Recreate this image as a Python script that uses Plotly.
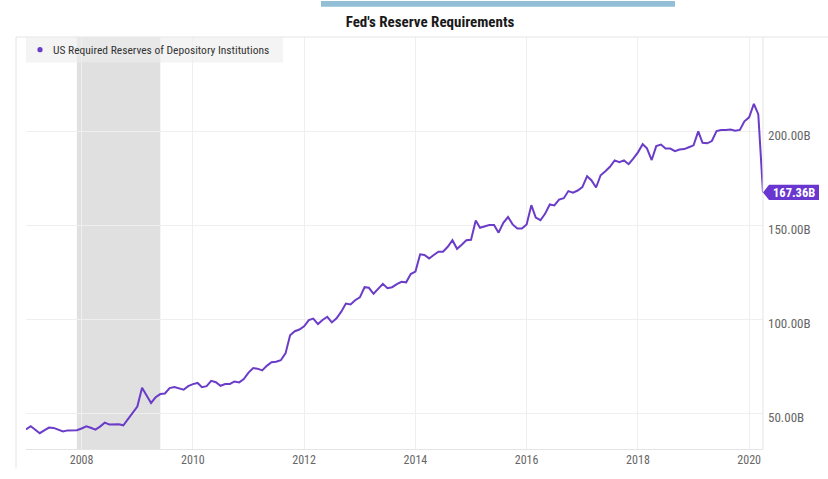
import plotly.graph_objects as go
import pandas as pd

# ---------------- data (billions USD, monthly) ----------------
series_name = "US Required Reserves of Depository Institutions"
chart_title = "Fed's Reserve Requirements"
start_month = "2007-01-01"
values = [
    41.4, 43.1, 41.4, 39.4, 40.9, 42.4, 42.2, 41.3, 40.3, 40.9, 40.8, 41.0,   # 2007
    41.9, 43.1, 42.3, 41.3, 42.9, 45.0, 44.0, 44.1, 44.1, 43.6, 47.1, 50.5,   # 2008
    53.6, 63.5, 59.7, 55.5, 58.5, 60.2, 60.5, 63.4, 63.9, 63.2, 62.5, 64.4,   # 2009
    65.5, 66.1, 63.9, 64.4, 67.2, 66.5, 64.6, 65.5, 65.6, 66.9, 66.4, 68.2,   # 2010
    71.6, 74.0, 73.7, 72.8, 75.2, 77.1, 77.4, 78.2, 81.8, 91.4, 93.6, 94.5,   # 2011
    96.2, 99.5, 100.3, 97.4, 99.6, 101.3, 98.3, 100.5, 104.0, 108.3, 107.8, 110.1,  # 2012
    111.6, 117.0, 116.7, 113.5, 115.9, 118.8, 116.5, 117.0, 118.6, 119.9, 119.6, 124.0,  # 2013
    125.3, 134.5, 134.1, 132.3, 134.1, 135.9, 135.9, 138.5, 142.0, 137.4, 139.6, 142.0,  # 2014
    142.2, 152.4, 148.6, 149.2, 150.1, 150.1, 146.0, 151.2, 154.3, 150.4, 148.2, 148.2,  # 2015
    150.3, 160.6, 154.0, 152.6, 156.0, 161.0, 160.5, 163.6, 164.3, 168.1, 167.3, 168.4,  # 2016
    170.2, 176.0, 173.9, 170.0, 176.5, 178.6, 181.0, 184.4, 183.5, 184.4, 182.4, 185.4,  # 2017
    188.7, 193.0, 190.8, 184.6, 192.0, 192.8, 190.7, 190.7, 189.3, 190.2, 190.4, 191.4,  # 2018
    192.4, 199.8, 193.8, 193.5, 194.7, 200.0, 200.5, 200.6, 200.8, 200.2, 200.6, 205.2,  # 2019
    207.3, 214.5, 209.0, 167.36,                                                    # 2020
]
dates = pd.date_range(start_month, periods=len(values), freq="MS")

recession_start = "2007-12-01"
recession_end = "2009-06-01"

y_tick_vals = [50, 100, 150, 200]
y_tick_text = ["50.00B", "100.00B", "150.00B", "200.00B"]
x_tick_vals = ["2008-01-01", "2010-01-01", "2012-01-01", "2014-01-01",
               "2016-01-01", "2018-01-01", "2020-01-01"]
x_tick_text = ["2008", "2010", "2012", "2014", "2016", "2018", "2020"]
last_label = "167.36B"

# ---------------- style ----------------
W, H = 828, 479
L, R, T, B = 26, 65, 37, 20
PW, PH = W - L - R, H - T - B
FONT = "Liberation Sans Narrow, Arial Narrow, Roboto Condensed, Roboto, sans-serif"
PURPLE = "#6a3cc8"
TAG = "#6936cf"
GRID = "#efefef"
BORDER = "#e4e4e4"


def px_x(px):
    return (px - L) / PW


def px_y(py):
    return (H - B - py) / PH


fig = go.Figure()
fig.add_trace(go.Scatter(
    x=dates, y=values, mode="lines", name=series_name,
    line=dict(color=PURPLE, width=2), showlegend=False,
    hovertemplate="%{x|%b %Y}: %{y:.2f}B<extra></extra>",
))

shapes = [
    # recession band
    dict(type="rect", xref="x", yref="paper", x0=recession_start, x1=recession_end,
         y0=0, y1=1, fillcolor="#e0e0e0", line=dict(width=0), layer="between"),
    # top separator line
    dict(type="line", xref="paper", yref="paper", x0=px_x(16), x1=px_x(W), y0=1, y1=1,
         line=dict(color=BORDER, width=1)),
    # left frame line
    dict(type="line", xref="paper", yref="paper", x0=px_x(16), x1=px_x(16), y0=1, y1=px_y(H),
         line=dict(color=BORDER, width=1)),
    # right plot border
    dict(type="line", xref="paper", yref="paper", x0=1, x1=1, y0=0, y1=1,
         line=dict(color=BORDER, width=1)),
    # blue bar at the very top
    dict(type="rect", xref="paper", yref="paper", x0=px_x(321), x1=px_x(675),
         y0=px_y(6), y1=px_y(0), fillcolor="#93bfd6", line=dict(width=0)),
    # legend box
    dict(type="rect", xref="paper", yref="paper", x0=0, x1=px_x(283),
         y0=px_y(63), y1=1, fillcolor="rgba(236,236,236,0.6)", line=dict(width=0),
         layer="above"),
    # legend dot
    dict(type="circle", xref="paper", yref="paper", xsizemode="pixel", ysizemode="pixel",
         xanchor=px_x(40), yanchor=px_y(50), x0=-2.6, x1=2.6, y0=-2.6, y1=2.6,
         fillcolor=PURPLE, line=dict(width=0)),
    # last value tag
    dict(type="path", xref="paper", yref="y", xsizemode="pixel", ysizemode="pixel",
         xanchor=1, yanchor=values[-1],
         path="M0,0 L6,7.6 L56,7.6 L56,-7.6 L6,-7.6 Z",
         fillcolor=TAG, line=dict(width=0)),
]

annotations = [
    dict(text=series_name, xref="paper", yref="paper", x=px_x(51), y=px_y(50),
         xanchor="left", yanchor="middle", showarrow=False,
         font=dict(family=FONT, size=11.5, color="#333333")),
    dict(text="<b>" + last_label + "</b>", xref="paper", yref="y", x=1, y=values[-1],
         xanchor="center", yanchor="middle", xshift=31, showarrow=False,
         font=dict(family=FONT, size=12.5, color="white")),
]

fig.update_layout(
    width=W, height=H,
    margin=dict(l=L, r=R, t=T, b=B, pad=0),
    paper_bgcolor="white", plot_bgcolor="white",
    title=dict(text="<b>" + chart_title + "</b>", x=430 / W, xanchor="center",
               y=1 - 22 / H, yanchor="middle",
               font=dict(family=FONT, size=15, color="#1a1a1a")),
    showlegend=False,
    shapes=shapes,
    annotations=annotations,
    xaxis=dict(
        type="date", range=[dates[0], dates[-1]],
        tickvals=x_tick_vals, ticktext=x_tick_text,
        showgrid=True, gridcolor=GRID, gridwidth=1,
        showline=True, linecolor=BORDER, linewidth=1,
        ticks="", tickfont=dict(family=FONT, size=12, color="#666666"),
        zeroline=False,
    ),
    yaxis=dict(
        side="right", range=[31, 250],
        tickvals=y_tick_vals, ticktext=y_tick_text,
        showgrid=True, gridcolor=GRID, gridwidth=1,
        ticks="", tickfont=dict(family=FONT, size=13, color="#666666"),
        ticklabelstandoff=4, ticklabelshift=4,
        zeroline=False, showline=False,
    ),
)

fig.write_html(
    "out.html",
    config={"displayModeBar": False},
    post_script="document.body.style.margin='0';document.body.style.padding='0';",
)
